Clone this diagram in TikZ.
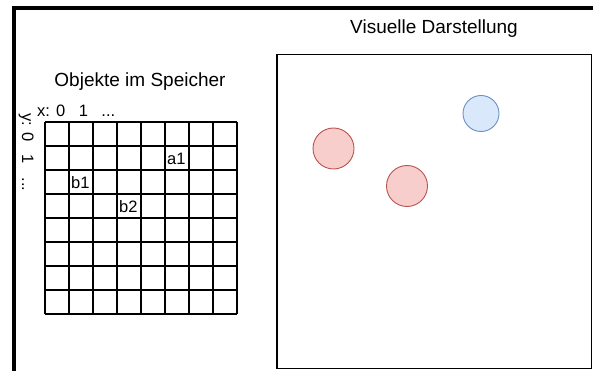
\documentclass[tikz,border=0pt]{standalone}
\usepackage{fontspec}
\setmainfont{Liberation Sans}
\definecolor{redfill}{HTML}{F8CECC}
\definecolor{redline}{HTML}{B85450}
\definecolor{bluefill}{HTML}{DAE8FC}
\definecolor{blueline}{HTML}{6C8EBF}
\tikzset{
  cellstyle/.style={draw=black, line width=1.2pt},
  celllabel/.style={anchor=west, inner sep=1pt, font=\fontsize{16.5}{16.5}\selectfont},
  titlestyle/.style={font=\fontsize{19}{19}\selectfont, inner sep=0pt},
  redball/.style={circle, draw=redline, fill=redfill, line width=0.9pt, minimum size=41pt, inner sep=0pt},
  blueball/.style={circle, draw=blueline, fill=bluefill, line width=0.9pt, minimum size=36pt, inner sep=0pt},
  framebar/.style={line width=4pt, black}
}
\begin{document}
\begin{tikzpicture}[x=1pt,y=-1pt]
\useasboundingbox (0,0) rectangle (593,371);
% frame bars
\draw[framebar] (12,8.5) -- (593,8.5);
\draw[framebar] (14,6.5) -- (14,371);
% titles
\node[titlestyle] (t1) at (140,82) {Objekte im Speicher};
\node[titlestyle] (t2) at (434,29) {Visuelle Darstellung};
% grid
\foreach \i in {0,...,8} {
  \draw[cellstyle] (45+24*\i,122) -- (45+24*\i,314);
  \draw[cellstyle] (45,122+24*\i) -- (237,122+24*\i);
}
% axis labels
\node[celllabel, anchor=base west, inner sep=0pt] (xl) at (37,117) {x: 0\hspace{13.5pt}1\hspace{13.5pt}...};
\node[celllabel, anchor=base west, inner sep=0pt, rotate=-90] (yl) at (22,113) {y: 0\hspace{13.5pt}1\hspace{13.5pt}...};
% cell labels
\node[celllabel] (a1) at (166,158.5) {a1};
\node[celllabel] (b1) at (70,182.5) {b1};
\node[celllabel] (b2) at (118,206.5) {b2};
% right box
\draw[line width=1.2pt, black] (277,54.5) rectangle (591.5,368.5);
\node[redball] (r1) at (333.5,148.5) {};
\node[redball] (r2) at (407,186) {};
\node[blueball] (bb) at (481,113.5) {};
\end{tikzpicture}
\end{document}
